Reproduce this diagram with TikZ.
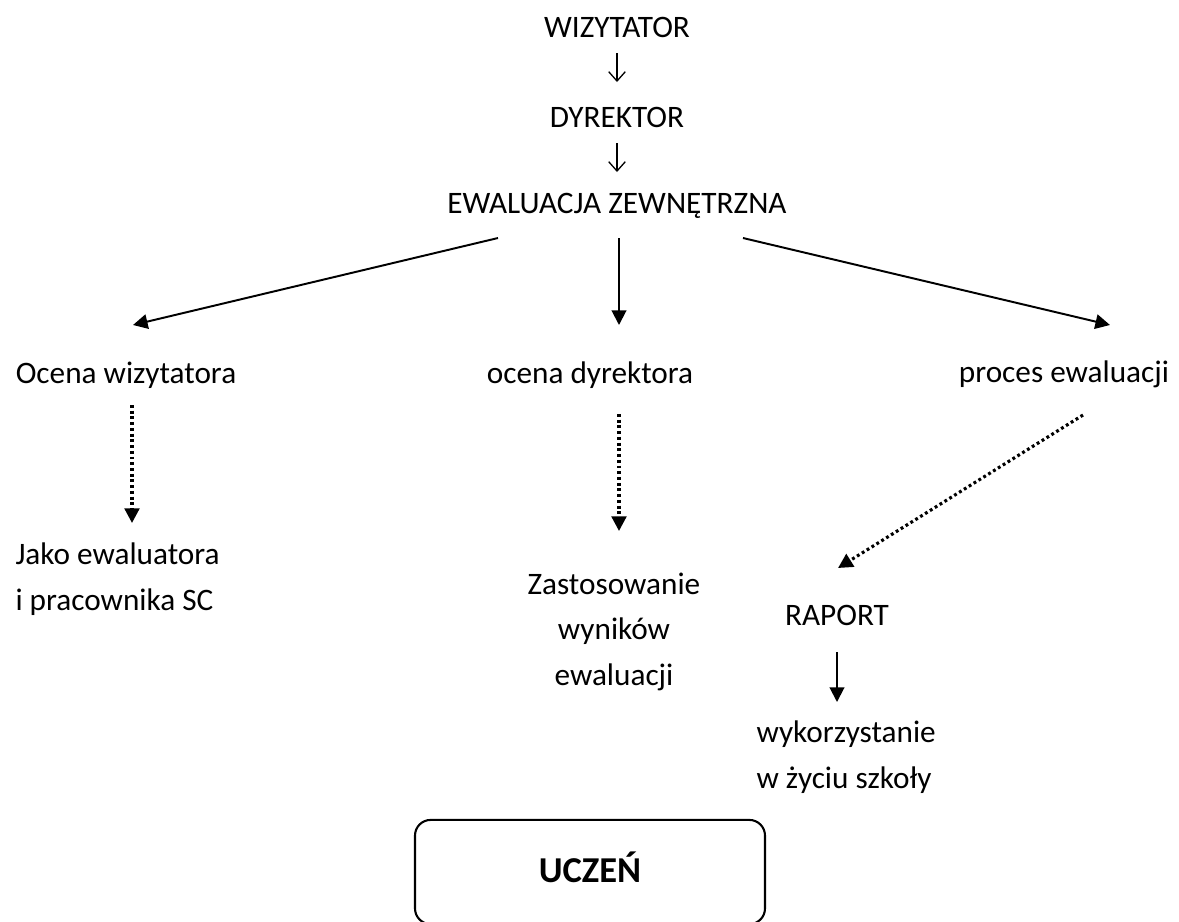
\documentclass[tikz,border=0pt]{standalone}
\usepackage{fontspec}
\setmainfont{Carlito}
\usetikzlibrary{arrows.meta}

\begin{document}
\begin{tikzpicture}[x=0.384pt,y=-0.384pt,
        txt/.style={inner sep=0pt,font=\fontsize{12pt}{17.3pt}\selectfont},
        conn/.style={line width=0.75pt,-{Triangle[length=5.6pt,width=5.6pt]}},
        dots/.style={line width=1.2pt,dash pattern=on 1.1pt off 1.1pt,-{Triangle[length=5.6pt,width=5.6pt]}},
        glyph/.style={line width=0.5pt,-{Straight Barb[length=3.6pt,width=6.4pt]}},
        pupil/.style={draw,line width=0.8pt,rounded corners=6pt,minimum width=134.4pt,minimum height=40pt,
            text height=8.6pt,text depth=0.6pt,font=\fontsize{14pt}{17pt}\selectfont\bfseries}]
        \useasboundingbox (0,0) rectangle (1179,921);

        \node (wiz) at (617,37) [txt,anchor=base]{WIZYTATOR};
        \node (dyr) at (617,127) [txt,anchor=base]{DYREKTOR};
        \node (ewal) at (617,213) [txt,anchor=base]{EWALUACJA ZEWNĘTRZNA};

        \node (ocw) at (126,383) [txt,anchor=base]{Ocena wizytatora};
        \node (ocd) at (590,383) [txt,anchor=base]{ocena dyrektora};
        \node (proc) at (1064,382) [txt,anchor=base]{proces ewaluacji};

        \node (jako) at (15,610) [txt,anchor=base west,align=left]{Jako ewaluatora\\i pracownika SC};
        \node (zast) at (614,685) [txt,anchor=base,align=center]{Zastosowanie\\wyników\\ewaluacji};
        \node (rap) at (837,625) [txt,anchor=base]{RAPORT};
        \node (wyk) at (756,788) [txt,anchor=base west,align=left]{wykorzystanie\\w życiu szkoły};

        \node (ucz) at (590,872) [pupil]{UCZEŃ};

        \draw [glyph]([shift={(0,16)}]wiz.base) -- ([shift={(0,-45)}]dyr.base);
        \draw [glyph]([shift={(0,16)}]dyr.base) -- ([shift={(0,-41)}]ewal.base);

        \draw [conn]([shift={(-119,25)}]ewal.base) -- ([shift={(7,-58)}]ocw.base);
        \draw [conn]([shift={(2,25)}]ewal.base) -- ([shift={(29,-58)}]ocd.base);
        \draw [conn]([shift={(126,25)}]ewal.base) -- ([shift={(46,-57)}]proc.base);

        \draw [dots]([shift={(6,22)}]ocw.base) -- ([shift={(117,-87)}]jako.base west);
        \draw [dots]([shift={(29,31)}]ocd.base) -- ([shift={(5,-154)}]zast.base);
        \draw [dots]([shift={(19,33)}]proc.base) -- ([shift={(1,-57)}]rap.base);

        \draw [conn]([shift={(0,27)}]rap.base) -- ([shift={(81,-86)}]wyk.base west);
    \end{tikzpicture}
\end{document}
